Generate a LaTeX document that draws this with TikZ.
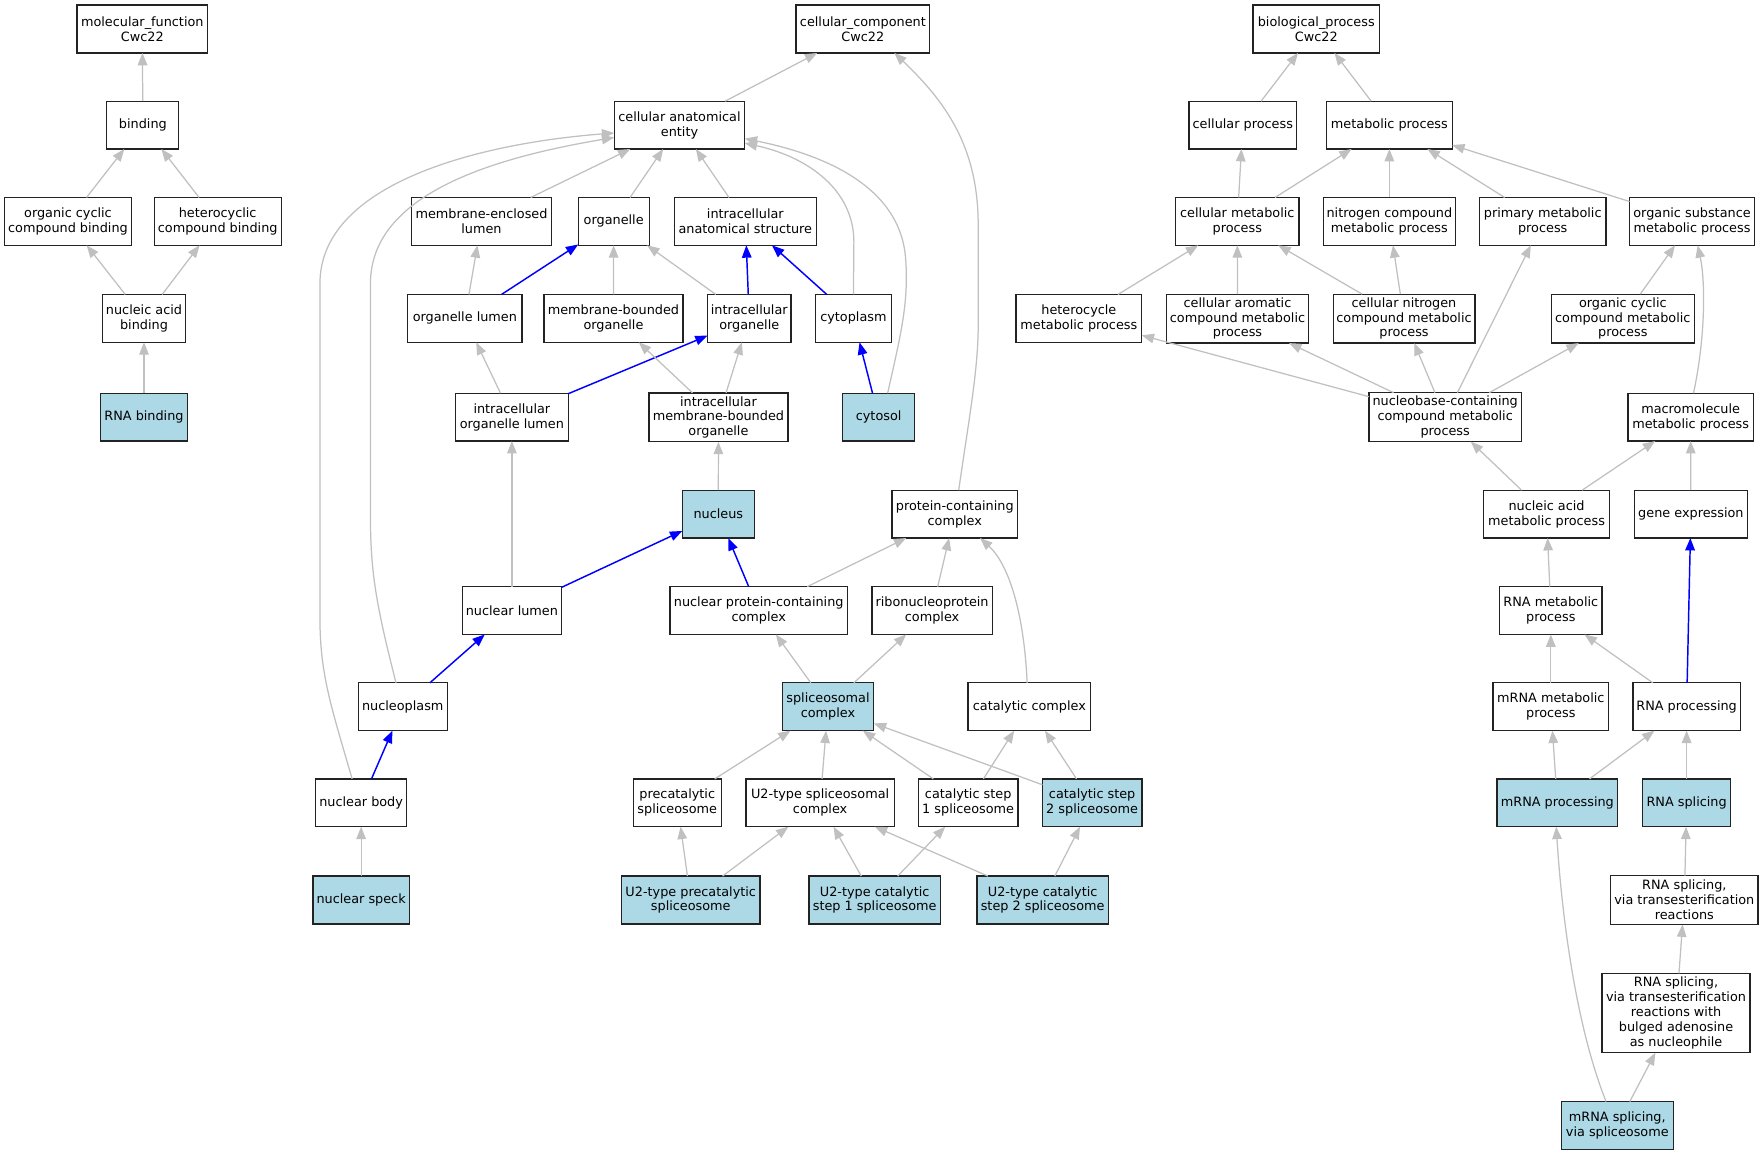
\documentclass[tikz,border=0pt]{standalone}
\usepackage{fontspec}
\setmainfont{DejaVu Sans}
\usetikzlibrary{arrows.meta}
\definecolor{egray}{RGB}{192,192,192}
\definecolor{lblue}{RGB}{173,216,230}
\definecolor{eblue}{RGB}{0,0,255}
\definecolor{bdr}{RGB}{35,35,35}
\begin{document}
\begin{tikzpicture}[x=1pt,y=-1pt,
  box/.style={draw=bdr, line width=1.1pt, fill=white, rectangle, inner sep=0pt, outer sep=0pt,
    align=center, minimum height=42.5pt, font=\fontsize{11.4}{13.2}\selectfont},
  hl/.style={box, fill=lblue},
  tall/.style={minimum height=43.5pt},
  gedge/.style={draw=egray, line width=1.1pt, -{Triangle[length=11pt,width=8.5pt]}},
  bedge/.style={draw=eblue, line width=1.3pt, -{Triangle[length=11pt,width=8.5pt]}}]
\useasboundingbox[fill=white] (0,0) rectangle (1568,1026.7);

% ---------------- molecular function ----------------
\node[box, minimum width=116pt] (mf) at (126.5,25.8) {molecular\_function\\Cwc22};
\node[box, minimum width=64pt] (binding) at (127,111.2) {binding};
\node[box, minimum width=112.6pt] (ocb) at (60.4,196.8) {organic cyclic\\compound binding};
\node[box, minimum width=113pt] (hcb) at (193.5,196.8) {heterocyclic\\compound binding};
\node[box, minimum width=73.5pt] (nab) at (128,283) {nucleic acid\\binding};
\node[hl, minimum width=77pt] (rnab) at (128,370.8) {RNA binding};

% ---------------- cellular component ----------------
\node[box, minimum width=119pt] (cc) at (767,25.8) {cellular\_component\\Cwc22};
\node[box, minimum width=116pt] (cae) at (604,111.2) {cellular anatomical\\entity};
\node[box, minimum width=124.6pt] (mel) at (428,196.8) {membrane-enclosed\\lumen};
\node[box, minimum width=63pt] (org) at (545.5,196.8) {organelle};
\node[box, minimum width=126pt] (ias) at (662.5,196.8) {intracellular\\anatomical structure};
\node[box, minimum width=101.5pt] (ol) at (413.2,283) {organelle lumen};
\node[box, minimum width=123.5pt] (mbo) at (545.3,283) {membrane-bounded\\organelle};
\node[box, minimum width=74pt] (io) at (666,283) {intracellular\\organelle};
\node[box, minimum width=67pt] (cyto) at (758.6,283) {cytoplasm};
\node[box, minimum width=100pt] (iol) at (455,370.8) {intracellular\\organelle lumen};
\node[box, tall, minimum width=123.5pt] (imbo) at (638.6,371) {intracellular\\membrane-bounded\\organelle};
\node[hl, minimum width=64pt] (cytosol) at (781,370.8) {cytosol};
\node[hl, minimum width=64pt] (nucleus) at (638.5,457) {nucleus};
\node[box, minimum width=111.6pt] (pcc) at (848.7,457) {protein-containing\\complex};
\node[box, minimum width=88pt] (nl) at (455,542.7) {nuclear lumen};
\node[box, minimum width=157.5pt] (npcc) at (674.4,542.7) {nuclear protein-containing\\complex};
\node[box, minimum width=107pt] (rnp) at (828.5,542.7) {ribonucleoprotein\\complex};
\node[box, minimum width=79pt] (nucleoplasm) at (358,628.2) {nucleoplasm};
\node[hl, minimum width=81.4pt] (sc) at (736,628.2) {spliceosomal\\complex};
\node[box, minimum width=109.2pt] (catc) at (915,628.2) {catalytic complex};
\node[box, minimum width=80.6pt] (nb) at (321,713.6) {nuclear body};
\node[box, minimum width=78.3pt] (prec) at (602,713.6) {precatalytic\\spliceosome};
\node[box, minimum width=131.6pt] (u2sc) at (729,713.6) {U2-type spliceosomal\\complex};
\node[box, minimum width=88.4pt] (cs1) at (860.6,713.6) {catalytic step\\1 spliceosome};
\node[hl, minimum width=88.4pt] (cs2) at (970.8,713.6) {catalytic step\\2 spliceosome};
\node[hl, minimum width=85.4pt] (ns) at (321,800) {nuclear speck};
\node[hl, minimum width=123pt] (u2pre) at (614,800) {U2-type precatalytic\\spliceosome};
\node[hl, minimum width=116.7pt] (u2cs1) at (777.5,800) {U2-type catalytic\\step 1 spliceosome};
\node[hl, minimum width=116.6pt] (u2cs2) at (926.8,800) {U2-type catalytic\\step 2 spliceosome};

% ---------------- biological process ----------------
\node[box, minimum width=112.5pt] (bp) at (1170,25.8) {biological\_process\\Cwc22};
\node[box, minimum width=95.5pt] (cp) at (1104.7,111.2) {cellular process};
\node[box, minimum width=111.6pt] (mp) at (1235,111.2) {metabolic process};
\node[box, minimum width=109.5pt] (cmp) at (1099.8,196.8) {cellular metabolic\\process};
\node[box, minimum width=117.2pt] (ncmp) at (1235,196.8) {nitrogen compound\\metabolic process};
\node[box, minimum width=112.4pt] (pmp) at (1371.3,196.8) {primary metabolic\\process};
\node[box, minimum width=111pt] (osmp) at (1504,196.8) {organic substance\\metabolic process};
\node[box, minimum width=111.6pt] (hmp) at (959,283) {heterocycle\\metabolic process};
\node[box, tall, minimum width=126.3pt] (camp) at (1100,283.2) {cellular aromatic\\compound metabolic\\process};
\node[box, tall, minimum width=126pt] (cnmp) at (1248,283.2) {cellular nitrogen\\compound metabolic\\process};
\node[box, tall, minimum width=127pt] (occmp) at (1442.5,283.2) {organic cyclic\\compound metabolic\\process};
\node[box, tall, minimum width=135.5pt] (nbcmp) at (1284.6,370.8) {nucleobase-containing\\compound metabolic\\process};
\node[box, minimum width=111.6pt] (mmp) at (1502.8,370.8) {macromolecule\\metabolic process};
\node[box, minimum width=111.7pt] (namp) at (1374.7,457) {nucleic acid\\metabolic process};
\node[box, minimum width=100.2pt] (gexp) at (1503,457) {gene expression};
\node[box, minimum width=91pt] (rmp) at (1378.5,542.7) {RNA metabolic\\process};
\node[box, minimum width=102.8pt] (mrmp) at (1378.5,628.2) {mRNA metabolic\\process};
\node[box, minimum width=95.5pt] (rp) at (1499.2,628.2) {RNA processing};
\node[hl, minimum width=107.4pt] (mrp) at (1384.3,713.6) {mRNA processing};
\node[hl, minimum width=78.4pt] (rs) at (1499.2,713.6) {RNA splicing};
\node[box, tall, minimum width=131.1pt] (rstr) at (1497.2,800) {RNA splicing,\\via transesterification\\reactions};
\node[box, minimum height=70.5pt, minimum width=131.6pt] (rstrb) at (1489.8,900.5) {RNA splicing,\\via transesterification\\reactions with\\bulged adenosine\\as nucleophile};
\node[hl, minimum width=99.9pt] (mrs) at (1437.6,1000.4) {mRNA splicing,\\via spliceosome};

% ---------------- edges: molecular function ----------------
\draw[gedge] (binding) -- (mf);
\draw[gedge] (ocb) -- (binding);
\draw[gedge] (hcb) -- (binding);
\draw[gedge] (nab) -- (ocb);
\draw[gedge] (nab) -- (hcb);
\draw[gedge] (rnab) -- (nab);

% ---------------- edges: cellular component ----------------
\draw[gedge] (cae) -- (cc);
\draw[gedge] (mel) -- (cae);
\draw[gedge] (org) -- (cae);
\draw[gedge] (ias) -- (cae);
\draw[gedge] ([xshift=-8pt]nb.north) .. controls (295,630) and (284.4,600) .. (284.4,550)
  -- (284.4,252) .. controls (284.4,165) and (420,128) .. ([yshift=-7pt]cae.west);
\draw[gedge] ([xshift=-6pt]nucleoplasm.north) .. controls (335,540) and (329.3,510) .. (329.3,460)
  -- (329.3,252) .. controls (329.3,172) and (440,140) .. ([yshift=-11pt]cae.west);
\draw[gedge] (cyto.north) -- (759,215) .. controls (759,170) and (720,140) .. ([yshift=-16pt]cae.east);
\draw[gedge] ([xshift=8pt]cytosol.north) .. controls (800,300) and (808,270) .. (805,230)
  .. controls (800,160) and (720,135) .. ([yshift=-12pt]cae.east);
\draw[gedge] (ol) -- (mel);
\draw[bedge] (ol) -- (org);
\draw[gedge] (mbo) -- (org);
\draw[gedge] (io) -- (org);
\draw[bedge] (io) -- (ias);
\draw[bedge] (cyto) -- (ias);
\draw[gedge] (iol) -- (ol);
\draw[bedge] (iol) -- (io);
\draw[gedge] (imbo) -- (mbo);
\draw[gedge] (imbo) -- (io);
\draw[bedge] (cytosol) -- (cyto);
\draw[gedge] (nucleus) -- (imbo);
\draw[gedge] ([xshift=3.5pt]pcc.north) .. controls (860,380) and (869.5,330) .. (869.5,290)
  -- (869.5,200) .. controls (869.5,130) and (840,90) .. ([xshift=28pt]cc.south);
\draw[gedge] (nl) -- (iol);
\draw[bedge] (nl) -- (nucleus);
\draw[bedge] (npcc) -- (nucleus);
\draw[gedge] (npcc) -- (pcc);
\draw[gedge] (rnp) -- (pcc);
\draw[gedge] ([xshift=-2pt]catc.north) .. controls (910,540) and (895,500) .. ([xshift=22.5pt]pcc.south);
\draw[bedge] (nucleoplasm) -- (nl);
\draw[gedge] (sc) -- (npcc);
\draw[gedge] (sc) -- (rnp);
\draw[bedge] (nb) -- (nucleoplasm);
\draw[gedge] (prec) -- (sc);
\draw[gedge] (u2sc) -- (sc);
\draw[gedge] (cs1) -- (sc);
\draw[gedge] (cs2) -- (sc);
\draw[gedge] (cs1) -- (catc);
\draw[gedge] (cs2) -- (catc);
\draw[gedge] (ns) -- (nb);
\draw[gedge] (u2pre) -- (prec);
\draw[gedge] (u2pre) -- (u2sc);
\draw[gedge] (u2cs1) -- (u2sc);
\draw[gedge] (u2cs1) -- (cs1);
\draw[gedge] (u2cs2) -- (u2sc);
\draw[gedge] (u2cs2) -- (cs2);

% ---------------- edges: biological process ----------------
\draw[gedge] (cp) -- (bp);
\draw[gedge] (mp) -- (bp);
\draw[gedge] (cmp) -- (cp);
\draw[gedge] (cmp) -- (mp);
\draw[gedge] (ncmp) -- (mp);
\draw[gedge] (pmp) -- (mp);
\draw[gedge] (osmp) -- (mp);
\draw[gedge] (hmp) -- (cmp);
\draw[gedge] (camp) -- (cmp);
\draw[gedge] (cnmp) -- (cmp);
\draw[gedge] (cnmp) -- (ncmp);
\draw[gedge] (occmp) -- (osmp);
\draw[gedge] (nbcmp) -- (hmp);
\draw[gedge] (nbcmp) -- (camp);
\draw[gedge] (nbcmp) -- (cnmp);
\draw[gedge] (nbcmp) -- (pmp);
\draw[gedge] (nbcmp) -- (occmp);
\draw[gedge] ([xshift=2.5pt]mmp.north) .. controls (1516,300) and (1516,250) .. ([xshift=5pt]osmp.south);
\draw[gedge] (namp) -- (nbcmp);
\draw[gedge] (namp) -- (mmp);
\draw[gedge] (gexp) -- (mmp);
\draw[gedge] (rmp) -- (namp);
\draw[gedge] (mrmp) -- (rmp);
\draw[gedge] (rp) -- (rmp);
\draw[bedge] (rp) -- (gexp);
\draw[gedge] (mrp) -- (mrmp);
\draw[gedge] (mrp) -- (rp);
\draw[gedge] (rs) -- (rp);
\draw[gedge] (rstr) -- (rs);
\draw[gedge] (rstrb) -- (rstr);
\draw[gedge] (mrs) -- (rstrb);
\draw[gedge] ([xshift=-10pt]mrs.north) .. controls (1400,910) and (1388,810) .. ([xshift=-1pt]mrp.south);
\end{tikzpicture}
\end{document}
